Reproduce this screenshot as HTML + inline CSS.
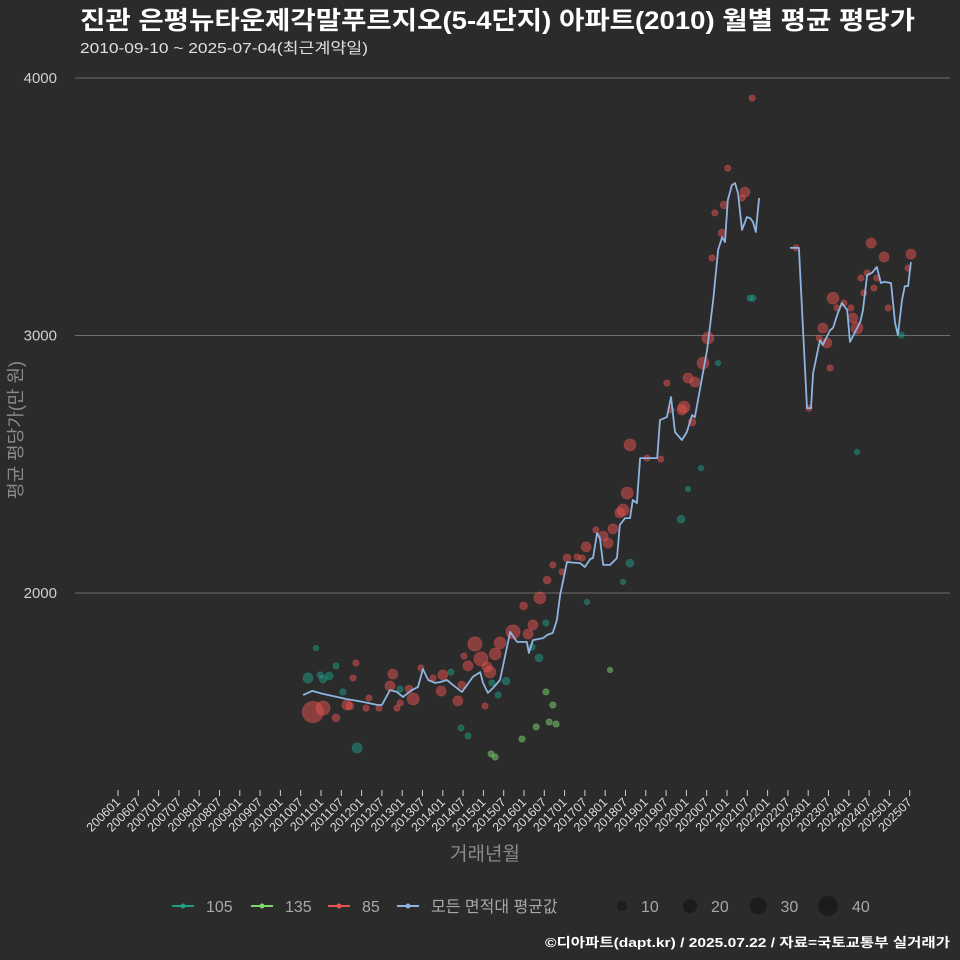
<!DOCTYPE html>
<html><head><meta charset="utf-8">
<style>
html,body{margin:0;padding:0;background:#2b2b2c;}
svg{display:block;font-family:"Liberation Sans","Noto Sans CJK KR",sans-serif;}
</style></head>
<body>
<svg id="chart" width="960" height="960" xmlns="http://www.w3.org/2000/svg">
<rect width="960" height="960" fill="#2b2b2c"/>
<text x="80" y="29" fill="#ffffff" font-size="25" font-weight="bold" textLength="835" lengthAdjust="spacingAndGlyphs">진관 은평뉴타운제각말푸르지오(5-4단지) 아파트(2010) 월별 평균 평당가</text>
<text x="80" y="53" fill="#e0e0e0" font-size="15" textLength="288" lengthAdjust="spacingAndGlyphs">2010-09-10 ~ 2025-07-04(최근계약일)</text>
<g id="grid"></g>
<g id="yticks"></g>
<text transform="translate(22,430) rotate(-90)" text-anchor="middle" fill="#8a8a8a" font-size="18">평균 평당가(만 원)</text>
<g id="xticks"></g>
<text x="485" y="860" text-anchor="middle" fill="#8a8a8a" font-size="19">거래년월</text>
<g id="marks"></g>
<g id="legend"></g>
<text x="950" y="947" text-anchor="end" fill="#ffffff" font-size="13" font-weight="bold" textLength="405" lengthAdjust="spacingAndGlyphs">©디아파트(dapt.kr) / 2025.07.22 / 자료=국토교통부 실거래가</text>
</svg>
<script>
const yTicks = [2000, 3000, 4000];
const xTickLabels = [];
for (let y = 2006; y <= 2025; y++) { xTickLabels.push(y + "01"); xTickLabels.push(y + "07"); }

const lineYears = [2010.56,2010.78,2011.05,2011.64,2012.03,2012.40,2012.50,2012.70,2012.87,2013.02,2013.24,2013.39,2013.51,2013.64,2013.81,2013.93,2014.10,2014.25,2014.47,2014.60,2014.74,2014.92,2014.99,2015.11,2015.24,2015.41,2015.66,2015.83,2016.07,2016.12,2016.22,2016.47,2016.57,2016.71,2016.81,2016.89,2017.06,2017.38,2017.50,2017.63,2017.70,2017.80,2017.87,2017.95,2018.12,2018.29,2018.36,2018.49,2018.61,2018.68,2018.78,2018.86,2019.28,2019.35,2019.52,2019.62,2019.72,2019.89,2020.01,2020.14,2020.21,2020.33,2020.51,2020.66,2020.78,2020.88,2020.95,2021.02,2021.12,2021.20,2021.27,2021.37,2021.49,2021.57,2021.64,2021.71,2021.79,2022.20,2022.55,2022.77,2022.97,2023.07,2023.12,2023.29,2023.36,2023.54,2023.61,2023.73,2023.83,2023.96,2024.03,2024.28,2024.35,2024.45,2024.57,2024.69,2024.79,2024.87,2025.04,2025.14,2025.21,2025.31,2025.38,2025.46,2025.53];
const lineValues = [1604,1620,1608,1588,1577,1565,1565,1623,1616,1596,1623,1635,1705,1662,1651,1654,1662,1643,1616,1643,1674,1693,1651,1612,1631,1662,1849,1810,1810,1767,1817,1825,1837,1845,1895,1992,2120,2116,2101,2132,2136,2233,2214,2109,2109,2136,2264,2291,2291,2361,2349,2524,2524,2672,2683,2761,2625,2594,2625,2691,2683,2788,2944,3138,3332,3382,3363,3526,3584,3592,3553,3410,3460,3456,3441,3402,3534,null,3340,3340,2718,2718,2854,2982,2963,3021,3029,3087,3126,3099,2975,3052,3099,3235,3243,3266,3204,3208,3204,3048,3002,3138,3192,3192,3285];

const redYears = [2010.80,2011.05,2011.37,2011.64,2011.71,2011.79,2011.86,2012.11,2012.18,2012.43,2012.70,2012.77,2012.87,2012.95,2013.17,2013.27,2013.46,2013.76,2013.96,2014.00,2014.37,2014.47,2014.52,2014.62,2014.79,2014.94,2015.04,2015.09,2015.16,2015.29,2015.41,2015.73,2016.10,2016.22,2015.99,2016.39,2016.57,2016.71,2016.94,2017.06,2017.31,2017.43,2017.53,2017.77,2017.95,2018.07,2018.19,2018.36,2018.44,2018.54,2018.61,2019.03,2019.37,2019.52,2019.62,2019.89,2019.94,2020.04,2020.21,2020.14,2020.41,2020.53,2020.63,2020.70,2020.88,2020.93,2021.02,2021.37,2021.44,2021.62,2022.70,2023.02,2023.27,2023.36,2023.46,2023.54,2023.61,2023.71,2023.88,2024.05,2024.10,2024.20,2024.30,2024.37,2024.45,2024.55,2024.62,2024.69,2024.87,2024.97,2025.46,2025.53];
const redValues = [1538,1553,1515,1565,1561,1670,1728,1553,1592,1553,1639,1685,1553,1573,1627,1588,1709,1670,1619,1682,1581,1643,1755,1717,1802,1744,1561,1713,1693,1763,1806,1849,1841,1876,1950,1981,2050,2109,2082,2136,2140,2136,2179,2245,2221,2194,2249,2311,2322,2388,2575,2524,2520,2815,2711,2711,2722,2835,2819,2664,2893,2990,3301,3476,3398,3507,3650,3534,3557,3922,3340,2718,2990,3029,2971,2874,3145,3107,3126,3107,3068,3029,3223,3165,3243,3359,3184,3223,3305,3107,3262,3316];
const redCounts = [45,20,6,10,6,4,4,4,4,4,10,10,4,4,6,14,4,4,10,10,10,6,4,10,20,20,4,10,14,14,14,20,10,10,6,14,6,4,4,6,4,4,10,4,10,10,10,10,14,14,14,4,4,4,4,10,14,10,10,6,14,14,4,4,6,6,4,4,10,4,4,4,4,10,10,4,14,4,4,4,10,14,4,4,4,10,4,4,10,4,4,10];

const tealYears = [2010.68,2010.88,2010.98,2011.05,2011.20,2011.37,2011.54,2011.89,2012.95,2014.20,2014.45,2014.62,2015.21,2015.36,2015.56,2016.20,2016.37,2016.54,2017.55,2018.44,2018.61,2019.87,2020.04,2020.36,2020.78,2021.57,2021.64,2024.20,2025.29];
const tealValues = [1670,1786,1682,1666,1678,1717,1616,1398,1627,1693,1476,1445,1651,1604,1658,1790,1748,1884,1965,2043,2116,2287,2404,2485,2893,3145,3145,2548,3002];
const tealCounts = [10,3,4,6,6,4,4,10,4,4,4,4,4,4,6,4,6,4,3,3,6,6,3,3,3,4,4,3,4];

const greenYears = [2015.19,2015.29,2015.95,2016.30,2016.54,2016.62,2016.71,2016.79,2018.12];
const greenValues = [1375,1363,1433,1480,1616,1499,1565,1491,1701];
const greenCounts = [4,4,4,4,4,4,4,4,3];

const NS = "http://www.w3.org/2000/svg";
function xScale(yr){ return 118 + (yr - 2006) * 40.6; }
function yScale(v){ return 593 - (v - 2000) * 0.2575; }
function rScale(n){ return 1.58 * Math.sqrt(n); }
function mk(tag, attrs, parent){ const e=document.createElementNS(NS,tag); for(const k in attrs) e.setAttribute(k,attrs[k]); parent.appendChild(e); return e; }

const grid=document.getElementById('grid'), yt=document.getElementById('yticks'), xt=document.getElementById('xticks'), marks=document.getElementById('marks'), legend=document.getElementById('legend');

yTicks.forEach(v=>{
  const l=mk('line',{x1:75,x2:950,y1:yScale(v),y2:yScale(v),stroke:'#6e6e6e','stroke-width':1},grid);
  
  
  const t=mk('text',{x:57,y:yScale(v)+5,'text-anchor':'end',fill:'#cfcfcf','font-size':15},yt);
  t.textContent=v;
  
  
});

xTickLabels.forEach(lab=>{
  const yr=+lab.slice(0,4)+(lab.slice(4)==='07'?0.5:0);
  const x=xScale(yr);
  const tk=mk('line',{x1:x,x2:x,y1:790,y2:796,stroke:'#cfcfcf','stroke-width':1},xt);
  
  
  const t=mk('text',{transform:`translate(${x+3},${803}) rotate(-45)`,'text-anchor':'end',fill:'#dcdcdc','font-size':12.5},xt);
  t.textContent=lab;
  
  
});

function drawDots(years, values, counts, color, name){
  years.forEach((yr,i)=>{
    const c=mk('circle',{cx:xScale(yr),cy:yScale(values[i]),r:rScale(counts[i]),fill:color,'fill-opacity':0.5,stroke:color,'stroke-opacity':0.35,'stroke-width':1},marks);
    
    
  });
}
drawDots(tealYears,tealValues,tealCounts,'#1f9e86','point-105');
drawDots(greenYears,greenValues,greenCounts,'#7ed86f','point-135');
drawDots(redYears,redValues,redCounts,'#e8534f','point-85');

let d='', pen=false;
lineYears.forEach((yr,i)=>{
  const v=lineValues[i];
  if(v===null){pen=false;return;}
  d+=(pen?'L':'M')+xScale(yr).toFixed(1)+','+yScale(v).toFixed(1);
  pen=true;
});
const line=mk('path',{d:d,fill:'none',stroke:'#8fb4e0','stroke-width':1.8,'stroke-linejoin':'round'},marks);



const legItems=[['105','#1f9e86',172],['135','#7ed86f',251],['85','#e8534f',328],['모든 면적대 평균값','#8fb4e0',397]];
legItems.forEach(([lab,col,x])=>{
  const g=mk('g',{},legend);
  
  
  mk('line',{x1:x,x2:x+22,y1:906,y2:906,stroke:col,'stroke-width':2},g);
  mk('circle',{cx:x+11,cy:906,r:2.5,fill:col},g);
  const t=mk('text',{x:x+34,y:912,fill:'#a8a8a8','font-size':16},g);
  t.textContent=lab;
});
const sizeItems=[[10,622,5],[20,690,7],[30,758,8.5],[40,828,10]];
sizeItems.forEach(([lab,x,r])=>{
  const g=mk('g',{},legend);
  
  
  mk('circle',{cx:x,cy:906,r:r,fill:'#1c1c1d'},g);
  const t=mk('text',{x:x+r+14,y:912,fill:'#a8a8a8','font-size':16},g);
  t.textContent=lab;
});
</script>
</body></html>
